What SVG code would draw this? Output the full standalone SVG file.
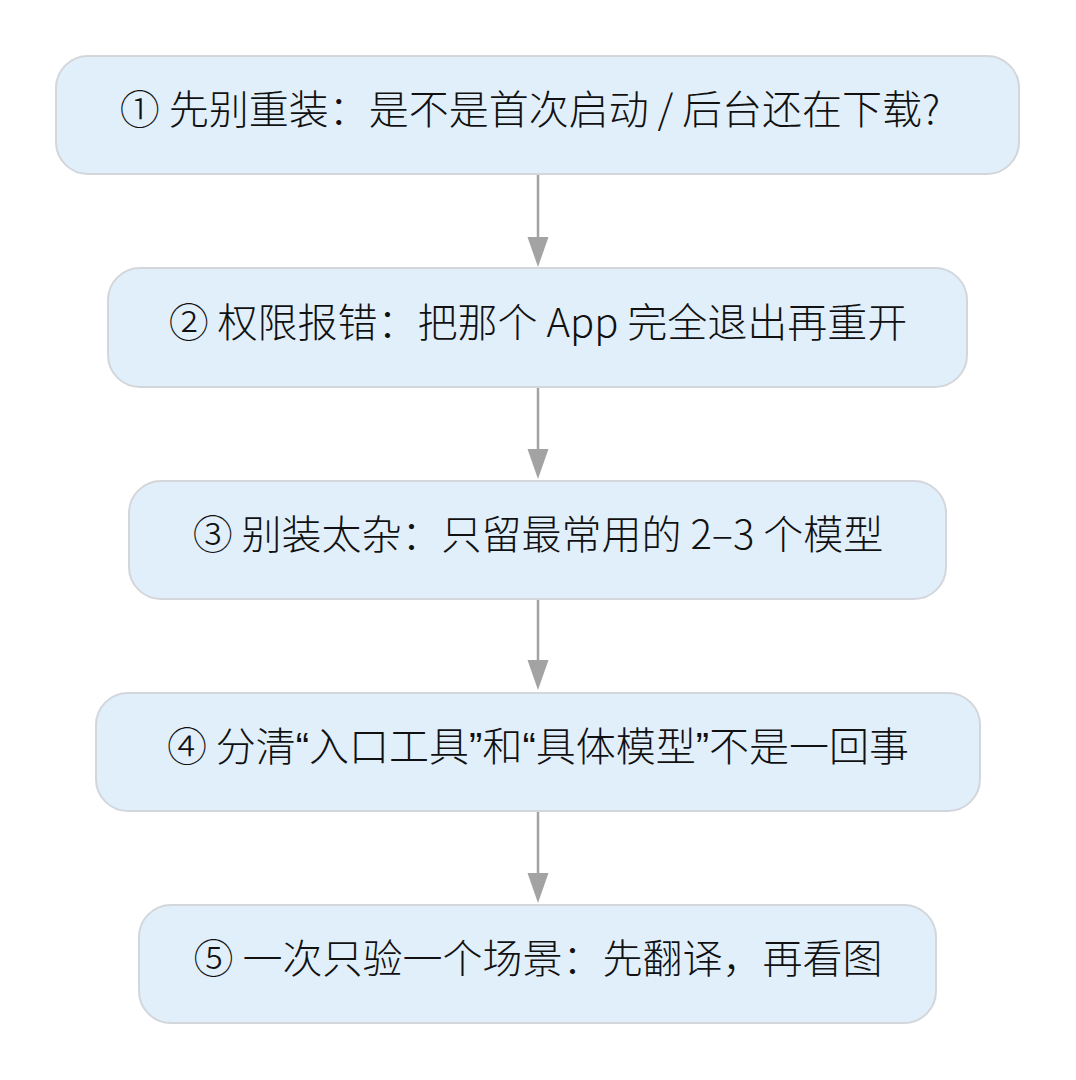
<svg xmlns="http://www.w3.org/2000/svg" width="1076" height="1080" viewBox="0 0 1076 1080">
<style>
.box{fill:#e1effb;stroke:#d3d6da;stroke-width:2}
.lbl{font-family:"Noto Sans CJK SC","Noto Sans",sans-serif;font-size:40px;font-weight:300;fill:#111;text-anchor:middle}
.q{font-family:"Liberation Sans",sans-serif;font-weight:400}
.edge{stroke:#a3a3a3;stroke-width:2.5;fill:none}
.head{fill:#a3a3a3}
</style>
<rect width="1076" height="1080" fill="#ffffff"/>
<g id="connectors">
<line class="edge" x1="538" y1="174" x2="538" y2="240"/>
<polygon class="head" points="527.5,237 548.5,237 538,267"/>
<line class="edge" x1="538" y1="387" x2="538" y2="452"/>
<polygon class="head" points="527.5,449 548.5,449 538,479"/>
<line class="edge" x1="538" y1="599" x2="538" y2="663"/>
<polygon class="head" points="527.5,660 548.5,660 538,690"/>
<line class="edge" x1="538" y1="811" x2="538" y2="876"/>
<polygon class="head" points="527.5,873 548.5,873 538,903"/>
</g>
<g id="node1">
<rect class="box" x="56" y="56" width="963" height="118" rx="32"/>
<text class="lbl" x="530" y="124">① 先别重装：是不是首次启动 / 后台还在下载?</text>
</g>
<g id="node2">
<rect class="box" x="108" y="268" width="859" height="119" rx="32"/>
<text class="lbl" x="538" y="337">② 权限报错：把那个 App 完全退出再重开</text>
</g>
<g id="node3">
<rect class="box" x="129" y="481" width="817" height="118" rx="32"/>
<text class="lbl" x="538" y="549">③ 别装太杂：只留最常用的 2–3 个模型</text>
</g>
<g id="node4">
<rect class="box" x="96" y="693" width="884" height="118" rx="32"/>
<text class="lbl" x="538" y="761">④ 分清<tspan class="q">“</tspan>入口工具<tspan class="q">”</tspan>和<tspan class="q">“</tspan>具体模型<tspan class="q">”</tspan>不是一回事</text>
</g>
<g id="node5">
<rect class="box" x="139" y="905" width="797" height="118" rx="32"/>
<text class="lbl" x="538" y="973">⑤ 一次只验一个场景：先翻译，再看图</text>
</g>
</svg>
